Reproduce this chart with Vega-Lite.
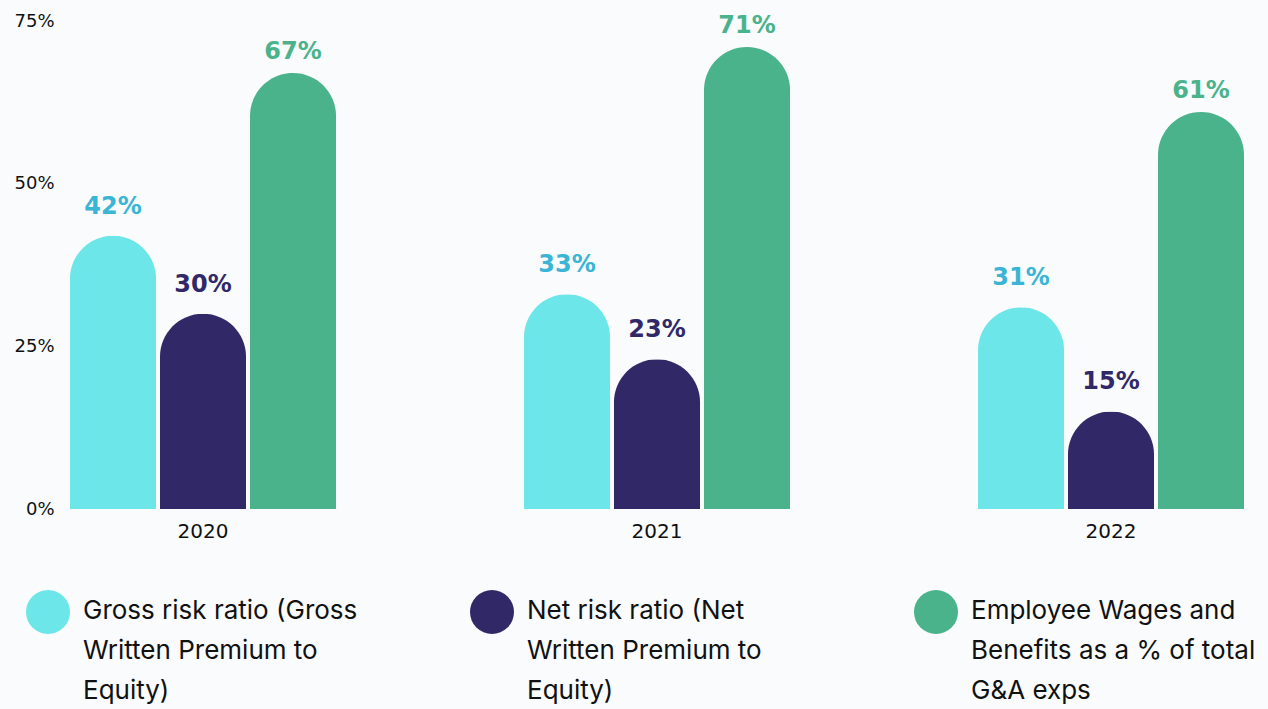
{
  "$schema": "https://vega.github.io/schema/vega-lite/v6.json",
  "background": "#f9fbfc",
  "padding": {"left": 0, "top": 12, "right": 14, "bottom": 6},
  "config": {"view": {"stroke": null}, "font": "Inter"},
  "spacing": 20,
  "datasets": {
    "ratios": [
      {"year": "2020", "series": "Gross risk ratio", "value": 0.42},
      {"year": "2020", "series": "Net risk ratio", "value": 0.30},
      {"year": "2020", "series": "Employee Wages and Benefits", "value": 0.67},
      {"year": "2021", "series": "Gross risk ratio", "value": 0.33},
      {"year": "2021", "series": "Net risk ratio", "value": 0.23},
      {"year": "2021", "series": "Employee Wages and Benefits", "value": 0.71},
      {"year": "2022", "series": "Gross risk ratio", "value": 0.31},
      {"year": "2022", "series": "Net risk ratio", "value": 0.15},
      {"year": "2022", "series": "Employee Wages and Benefits", "value": 0.61}
    ],
    "legend": [
      {"series": "Gross risk ratio", "lines": ["Gross risk ratio (Gross", "Written Premium to", "Equity)"]},
      {"series": "Net risk ratio", "lines": ["Net risk ratio (Net", "Written Premium to", "Equity)"]},
      {"series": "Employee Wages and Benefits", "lines": ["Employee Wages and", "Benefits as a % of total", "G&A exps"]}
    ]
  },
  "vconcat": [
    {
      "width": 1194,
      "height": 488,
      "data": {"name": "ratios"},
      "encoding": {
        "x": {
          "field": "year", "type": "nominal",
          "scale": {"paddingInner": 0.414, "paddingOuter": 0.022},
          "axis": {"title": null, "labelAngle": 0, "domain": false, "ticks": false, "labelPadding": 12, "labelFontSize": 20, "labelColor": "#111111", "labelFont": "DejaVu Sans"}
        },
        "xOffset": {
          "field": "series", "type": "nominal",
          "sort": ["Gross risk ratio", "Net risk ratio", "Employee Wages and Benefits"],
          "scale": {"paddingInner": 0.044, "paddingOuter": 0}
        },
        "y": {
          "field": "value", "type": "quantitative",
          "scale": {"domain": [0, 0.75]},
          "axis": {"title": null, "format": ".0%", "values": [0, 0.25, 0.5, 0.75], "grid": false, "domain": false, "ticks": false, "labelPadding": 6, "labelFontSize": 18, "labelColor": "#111111", "labelFont": "DejaVu Sans", "minExtent": 60, "maxExtent": 60}
        }
      },
      "layer": [
        {
          "mark": {"type": "bar", "cornerRadiusTopLeft": 43, "cornerRadiusTopRight": 43},
          "encoding": {
            "color": {
              "field": "series", "type": "nominal", "legend": null,
              "scale": {"domain": ["Gross risk ratio", "Net risk ratio", "Employee Wages and Benefits"], "range": ["#6de6e9", "#312868", "#4ab38b"]}
            }
          }
        },
        {
          "transform": [{"filter": "datum.series !== 'Employee Wages and Benefits'"}],
          "mark": {"type": "text", "dy": -29, "fontSize": 24, "fontWeight": "bold", "font": "DejaVu Sans"},
          "encoding": {
            "text": {"field": "value", "type": "quantitative", "format": ".0%"},
            "color": {
              "field": "series", "type": "nominal", "legend": null,
              "scale": {"domain": ["Gross risk ratio", "Net risk ratio", "Employee Wages and Benefits"], "range": ["#3bb5d5", "#312868", "#4ab38b"]}
            }
          }
        },
        {
          "transform": [{"filter": "datum.series === 'Employee Wages and Benefits'"}],
          "mark": {"type": "text", "dy": -21, "fontSize": 24, "fontWeight": "bold", "font": "DejaVu Sans"},
          "encoding": {
            "text": {"field": "value", "type": "quantitative", "format": ".0%"},
            "color": {
              "field": "series", "type": "nominal", "legend": null,
              "scale": {"domain": ["Gross risk ratio", "Net risk ratio", "Employee Wages and Benefits"], "range": ["#3bb5d5", "#312868", "#4ab38b"]}
            }
          }
        }
      ],
      "resolve": {"scale": {"color": "independent"}}
    },
    {
      "width": 1194,
      "height": 102,
      "data": {"name": "legend"},
      "encoding": {
        "x": {
          "field": "series", "type": "nominal",
          "sort": ["Gross risk ratio", "Net risk ratio", "Employee Wages and Benefits"],
          "scale": {"type": "point", "range": [-12, 876], "padding": 0},
          "axis": null
        }
      },
      "layer": [
        {
          "mark": {"type": "point", "filled": true, "size": 1936, "opacity": 1, "shape": "circle"},
          "encoding": {
            "color": {
              "field": "series", "type": "nominal", "legend": null,
              "scale": {"domain": ["Gross risk ratio", "Net risk ratio", "Employee Wages and Benefits"], "range": ["#6de6e9", "#312868", "#4ab38b"]}
            }
          }
        },
        {
          "mark": {"type": "text", "align": "left", "baseline": "top", "dx": 35, "dy": -14, "fontSize": 26, "lineHeight": 40, "color": "#111111"},
          "encoding": {"text": {"field": "lines", "type": "nominal"}}
        }
      ]
    }
  ]
}
